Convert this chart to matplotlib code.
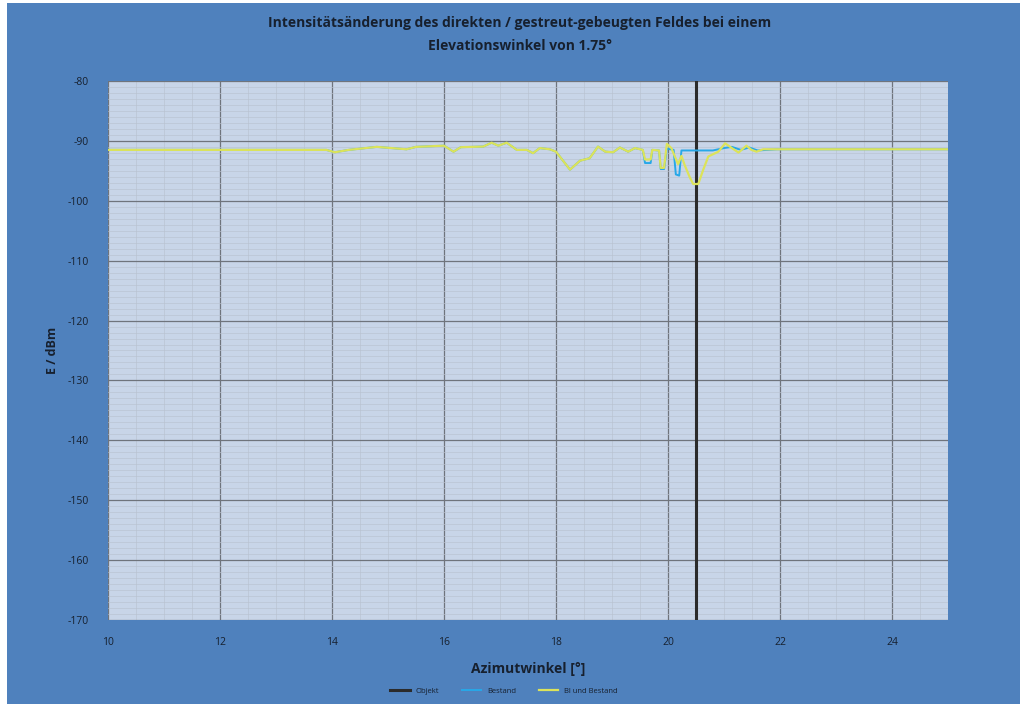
import matplotlib.pyplot as plt
from matplotlib.patches import Rectangle
from matplotlib.ticker import MultipleLocator

plt.rcParams['font.family'] = ['Open Sans', 'DejaVu Sans']
plt.rcParams['axes.unicode_minus'] = False

# Objekt: vertical marker at the object azimuth
objekt_x = [20.5, 20.5]
objekt_y = [-80, -170]

# Bestand (existing buildings only)
bestand_x = [10.0, 13.9, 14.05, 14.3, 14.8, 15.33, 15.5, 16.0, 16.17, 16.3,
             16.7, 16.85, 16.97, 17.12, 17.3, 17.48, 17.59, 17.71, 17.89, 18.0,
             18.25, 18.43, 18.6, 18.75, 18.88, 19.02, 19.14, 19.29, 19.41, 19.55,
             19.59, 19.69, 19.72, 19.84, 19.87, 19.93, 19.98, 20.1, 20.14, 20.2,
             20.24, 20.5, 20.8, 21.0, 21.14, 21.3, 21.45, 21.6, 21.95, 25.0]
bestand_y = [-91.5, -91.5, -91.9, -91.5, -91.0, -91.4, -91.0, -90.8, -91.8, -91.05,
             -90.95, -90.3, -90.8, -90.3, -91.5, -91.5, -92.05, -91.2, -91.4, -91.8,
             -94.8, -93.3, -92.9, -90.95, -91.8, -91.9, -91.1, -91.8, -91.2, -91.5,
             -93.7, -93.7, -91.5, -91.6, -94.7, -94.7, -91.3, -91.5, -95.6, -95.8,
             -91.6, -91.6, -91.6, -91.2, -91.0, -91.5, -91.1, -91.6, -91.4, -91.4]

# Bl und Bestand (planned building plus existing)
bl_x = [10.0, 13.9, 14.05, 14.3, 14.8, 15.33, 15.5, 16.0, 16.17, 16.3,
        16.7, 16.85, 16.97, 17.12, 17.3, 17.48, 17.59, 17.71, 17.89, 18.0,
        18.25, 18.43, 18.6, 18.75, 18.88, 19.02, 19.14, 19.29, 19.41, 19.55,
        19.59, 19.69, 19.72, 19.84, 19.87, 19.93, 19.98, 20.06, 20.18, 20.24,
        20.3, 20.39, 20.45, 20.54, 20.63, 20.72, 20.81, 20.9, 21.02, 21.14,
        21.26, 21.4, 21.49, 21.58, 21.7, 21.95, 25.0]
bl_y = [-91.5, -91.5, -91.9, -91.5, -91.0, -91.4, -91.0, -90.8, -91.8, -91.05,
        -90.95, -90.3, -90.8, -90.3, -91.5, -91.5, -92.05, -91.2, -91.4, -91.8,
        -94.8, -93.3, -92.9, -90.95, -91.8, -91.9, -91.1, -91.8, -91.2, -91.5,
        -93.1, -93.1, -91.5, -91.6, -94.5, -94.5, -90.5, -91.2, -93.9, -92.5,
        -94.1, -96.1, -97.2, -97.2, -94.8, -92.6, -92.2, -91.8, -90.4, -91.2,
        -91.95, -90.8, -91.5, -91.8, -91.4, -91.4, -91.4]

BG = '#4F81BD'
TXT = '#17202e'

fig = plt.figure(figsize=(10.29, 7.04), dpi=100, facecolor='white')
fig.patches.append(Rectangle((7 / 1029, 0), 1013 / 1029, 701 / 704,
                             transform=fig.transFigure, facecolor=BG,
                             edgecolor='none', zorder=-10))

ax = fig.add_axes([108 / 1029, 84 / 704, 840 / 1029, 539 / 704])
ax.set_facecolor('#C8D5E8')

ax.plot(objekt_x, objekt_y, color='#2b2b2b', lw=2.2, label='Objekt', zorder=3)
ax.plot(bestand_x, bestand_y, color='#27A8E8', lw=1.4, label='Bestand', zorder=4)
ax.plot(bl_x, bl_y, color='#DCE35A', lw=1.6, label='Bl und Bestand', zorder=5)

ax.set_xlim(10, 25)
ax.set_ylim(-170, -80)
ax.xaxis.set_major_locator(MultipleLocator(2))
ax.xaxis.set_minor_locator(MultipleLocator(0.5))
ax.yaxis.set_major_locator(MultipleLocator(10))
ax.yaxis.set_minor_locator(MultipleLocator(1))
ax.grid(which='major', color='#6f747c', lw=0.9)
ax.grid(which='minor', color='#b9c2d1', lw=0.45)
ax.set_axisbelow(True)

for s in ax.spines.values():
    s.set_visible(False)
ax.tick_params(which='both', length=0, colors=TXT, labelsize=7.5)
ax.tick_params(axis='x', pad=12)
ax.tick_params(axis='y', pad=14)

ax.set_xlabel('Azimutwinkel [°]', fontsize=10, fontweight='bold', color=TXT, labelpad=10)
ax.set_ylabel('E / dBm', fontsize=9, fontweight='bold', color=TXT, labelpad=6)

fig.text(0.505, 0.968, 'Intensitätsänderung des direkten / gestreut-gebeugten Feldes bei einem',
         ha='center', va='center', fontsize=10, fontweight='bold', color=TXT)
fig.text(0.505, 0.934, 'Elevationswinkel von 1.75°',
         ha='center', va='center', fontsize=10, fontweight='bold', color=TXT)

leg = fig.legend(loc='center', bbox_to_anchor=(0.49, 0.018), ncol=3, frameon=False,
                 fontsize=5.5, handlelength=2.5, columnspacing=3)
for t in leg.get_texts():
    t.set_color(TXT)

fig.savefig('out.png', dpi=100, facecolor=fig.get_facecolor())
